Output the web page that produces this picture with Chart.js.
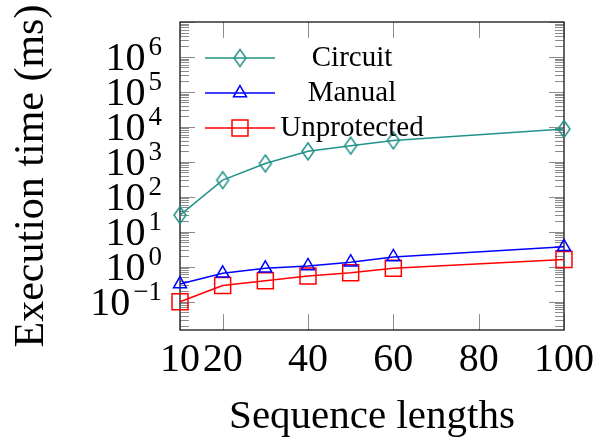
<!DOCTYPE html>
<html>
<head>
<meta charset="utf-8">
<script src="https://cdn.jsdelivr.net/npm/chart.js@4.4.0/dist/chart.umd.min.js"></script>
<style>
    html, body { margin: 0; padding: 0; background: #fff; }
</style>
</head>
<body>
<canvas id="timeChart" width="600" height="437"></canvas>
<script>
// execution time vs sequence length (log scale)

const seqLengths = [10, 20, 30, 40, 50, 60, 100];
const circuitTimes = [30, 300, 900, 2000, 2900, 4100, 8700];
const manualTimes = [0.32, 0.65, 0.9, 1.05, 1.35, 1.9, 3.7];
const unprotectedTimes = [0.1, 0.29, 0.4, 0.54, 0.67, 0.9, 1.6];
const seriesNames = ['Circuit', 'Manual', 'Unprotected'];
const xTicks = [10, 20, 40, 60, 80, 100];
const yDecades = [-1, 0, 1, 2, 3, 4, 5, 6];

const SERIF = "'Liberation Serif', 'DejaVu Serif', serif";
const TEAL = '#21928a';

// pgfplots style diamond (taller than wide)
function diamondMarker(color) {
    const c = document.createElement('canvas');
    c.width = 16;
    c.height = 21;
    const g = c.getContext('2d');
    g.strokeStyle = color;
    g.lineWidth = 1.5;
    g.beginPath();
    g.moveTo(8, 2);
    g.lineTo(14, 10.5);
    g.lineTo(8, 19);
    g.lineTo(2, 10.5);
    g.closePath();
    g.stroke();
    return c;
}

function toPoints(values) {
    return values.map((v, i) => ({ x: seqLengths[i], y: v }));
}

const frameTicks = {
    id: 'frameTicks',
    beforeDatasetsDraw(chart) {
        const { ctx, chartArea: a, scales: { x, y } } = chart;
        ctx.save();
        ctx.strokeStyle = '#8c8c8c';
        ctx.lineWidth = 1;
        ctx.beginPath();
        xTicks.forEach(v => {
            const px = Math.round(x.getPixelForValue(v)) + 0.5;
            ctx.moveTo(px, a.bottom);
            ctx.lineTo(px, a.bottom - 16);
            ctx.moveTo(px, a.top);
            ctx.lineTo(px, a.top + 16);
        });
        for (let d = -2; d <= 7; d++) {
            for (let k = 1; k <= 9; k++) {
                const val = k * Math.pow(10, d);
                if (val < y.min || val > y.max) continue;
                const py = Math.round(y.getPixelForValue(val)) + 0.5;
                const len = k === 1 ? 15 : 9;
                ctx.moveTo(a.left, py);
                ctx.lineTo(a.left + len, py);
                ctx.moveTo(a.right, py);
                ctx.lineTo(a.right - len, py);
            }
        }
        ctx.stroke();
        ctx.strokeStyle = '#333';
        ctx.lineWidth = 1.5;
        ctx.strokeRect(a.left, a.top, a.right - a.left, a.bottom - a.top);
        ctx.restore();
    },
    afterDatasetsDraw(chart) {
        const { ctx, chartArea: a, scales: { y } } = chart;
        ctx.save();
        // y tick labels with superscript exponents
        ctx.fillStyle = '#000';
        ctx.textBaseline = 'alphabetic';
        yDecades.forEach(d => {
            const py = y.getPixelForValue(Math.pow(10, d));
            const sup = d < 0 ? '\u2212' + (-d) : String(d);
            ctx.font = '27px ' + SERIF;
            const supW = ctx.measureText(sup).width;
            const supX = a.left - 18 - supW;
            ctx.textAlign = 'left';
            ctx.fillText(sup, supX, py - 2);
            ctx.font = '40px ' + SERIF;
            ctx.textAlign = 'right';
            ctx.fillText('10', supX - 3, py + 13);
        });

        // legend inside the plot
        chart.data.datasets.forEach((ds, i) => {
            const ly = a.top + 36 + i * 35;
            ctx.strokeStyle = ds.borderColor;
            ctx.lineWidth = ds.borderWidth;
            ctx.beginPath();
            ctx.moveTo(a.left + 25, ly);
            ctx.lineTo(a.left + 95, ly);
            ctx.stroke();
            ctx.fillStyle = 'rgba(0,0,0,0)';
            ctx.lineWidth = ds.pointBorderWidth;
            Chart.helpers.drawPoint(ctx, {
                pointStyle: ds.pointStyle,
                radius: ds.pointRadius,
                borderWidth: ds.pointBorderWidth,
                rotation: 0
            }, a.left + 60, ly);
            ctx.fillStyle = '#000';
            ctx.font = '29px ' + SERIF;
            ctx.textAlign = 'center';
            ctx.textBaseline = 'middle';
            ctx.fillText(ds.label, a.left + 172, ly);
        });
        ctx.restore();
    }
};

const ctx = document.getElementById('timeChart').getContext('2d');

new Chart(ctx, {
    type: 'line',
    data: {
        datasets: [
            {
                label: seriesNames[0],
                data: toPoints(circuitTimes),
                borderColor: TEAL,
                borderWidth: 1.5,
                pointStyle: diamondMarker(TEAL),
                pointRadius: 8,
                pointBorderWidth: 1.5,
                pointBackgroundColor: 'rgba(0,0,0,0)',
                pointBorderColor: TEAL,
                clip: false
            },
            {
                label: seriesNames[1],
                data: toPoints(manualTimes),
                borderColor: '#0000ff',
                borderWidth: 1.5,
                pointStyle: 'triangle',
                pointRadius: 7.5,
                pointBorderWidth: 1.5,
                pointBackgroundColor: 'rgba(0,0,0,0)',
                pointBorderColor: '#0000ff',
                clip: false
            },
            {
                label: seriesNames[2],
                data: toPoints(unprotectedTimes),
                borderColor: '#ff0000',
                borderWidth: 1.5,
                pointStyle: 'rect',
                pointRadius: 11.3,
                pointBorderWidth: 1.5,
                pointBackgroundColor: 'rgba(0,0,0,0)',
                pointBorderColor: '#ff0000',
                clip: false
            }
        ]
    },
    options: {
        responsive: false,
        animation: false,
        devicePixelRatio: 1,
        layout: { padding: { top: 22, right: 35, left: 0, bottom: 0 } },
        plugins: {
            legend: { display: false },
            tooltip: { enabled: false }
        },
        scales: {
            x: {
                type: 'linear',
                min: 10,
                max: 100,
                afterBuildTicks: s => { s.ticks = xTicks.map(v => ({ value: v })); },
                afterFit: s => { s.height = 107; },
                grid: { display: false, drawTicks: false },
                border: { display: false },
                ticks: {
                    autoSkip: false,
                    maxRotation: 0,
                    color: '#000',
                    padding: 6,
                    font: { family: SERIF, size: 40 }
                },
                title: {
                    display: true,
                    text: 'Sequence lengths',
                    color: '#000',
                    font: { family: SERIF, size: 41, lineHeight: 0.95 },
                    padding: { top: 0, bottom: 0 }
                }
            },
            y: {
                type: 'logarithmic',
                min: 0.0155,
                max: 1e7,
                afterFit: s => { s.width = 180; },
                grid: { display: false },
                border: { display: false },
                ticks: { display: false },
                title: {
                    display: true,
                    text: 'Execution time (ms)',
                    color: '#000',
                    font: { family: SERIF, size: 42 },
                    padding: { top: 7, bottom: 0 }
                }
            }
        }
    },
    plugins: [frameTicks]
});
</script>
</body>
</html>
